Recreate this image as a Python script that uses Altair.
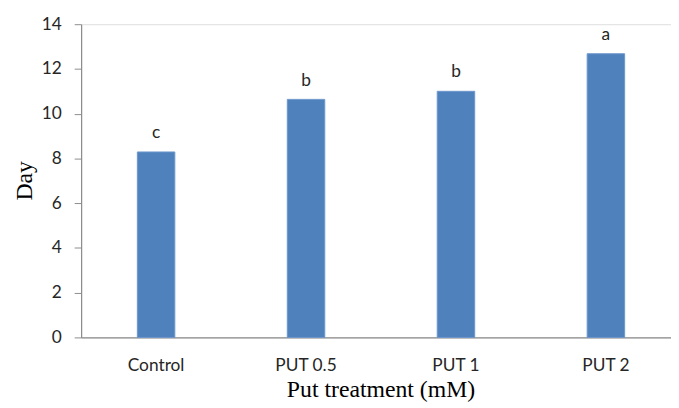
import altair as alt
import pandas as pd

categories = ["Control", "PUT 0.5", "PUT 1", "PUT 2"]
values = [8.29, 10.64, 11.0, 12.68]
letters = ["c", "b", "b", "a"]
y_ticks = [0, 2, 4, 6, 8, 10, 12, 14]

df = pd.DataFrame({"cat": categories, "val": values, "lab": letters})

x_enc = alt.X(
    "cat:N",
    sort=categories,
    scale=alt.Scale(range=[0, 607], paddingInner=0.75, paddingOuter=0.375),
    axis=alt.Axis(
        title="Put treatment (mM)",
        titleFont="Liberation Serif",
        titleFontSize=24,
        titleFontWeight="normal",
        titleColor="#000000",
        titleX=303,
        titleY=60,
        titleBaseline="alphabetic",
        labelFont="Lato",
        labelFontSize=17.5,
        labelColor="#262626",
        labelAngle=0,
        labelPadding=19,
        ticks=False,
        tickSize=0,
        domainColor="#8c8c8c",
        domainWidth=1.2,
    ),
)

y_enc = alt.Y(
    "val:Q",
    scale=alt.Scale(domain=[0, 14], nice=False),
    axis=alt.Axis(
        title="Day",
        titleFont="Liberation Serif",
        titleFontSize=24,
        titleFontWeight="normal",
        titleColor="#000000",
        titleX=-50,
        titleY=158,
        titleAngle=-90,
        titleAlign="center",
        titleBaseline="alphabetic",
        values=y_ticks,
        labelFont="Lato",
        labelFontSize=17.5,
        labelColor="#262626",
        labelPadding=13,
        tickSize=7,
        tickColor="#8c8c8c",
        domainColor="#8c8c8c",
        domainWidth=1.2,
        grid=False,
    ),
)

bars = alt.Chart(df).mark_bar(color="#4F81BD", stroke="#6d97cc", strokeWidth=1).encode(
    x=x_enc, y=y_enc
)

text = alt.Chart(df).mark_text(
    font="Lato", fontSize=17.5, color="#262626", baseline="alphabetic", dy=-14
).encode(
    x=alt.X("cat:N", sort=categories),
    y=alt.Y("val:Q"),
    text="lab:N",
)

chart = (
    alt.layer(bars, text)
    .properties(
        width=597,
        height=317,
        autosize=alt.AutoSizeParams(type="none"),
        padding={"left": 74, "top": 14, "right": 0, "bottom": 67},
    )
    .configure_view(stroke=None)
    .configure(background="white")
)

chart.save("out.html", embed_options={"renderer": "svg", "actions": False})
